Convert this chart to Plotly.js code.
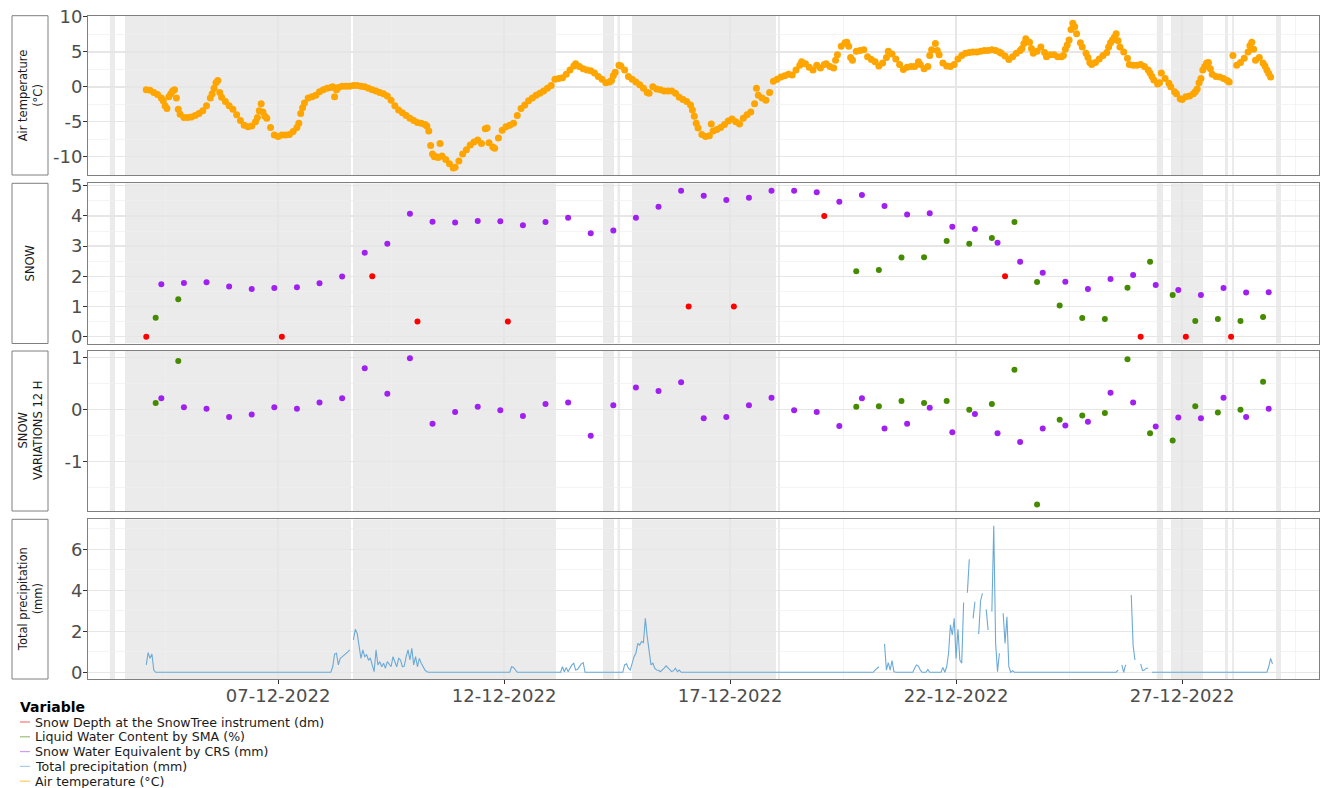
<!DOCTYPE html>
<html><head><meta charset="utf-8">
<script src="https://cdn.plot.ly/plotly-3.0.1.min.js"></script>
<style>html,body{margin:0;padding:0;background:#fff;}#chart{width:1320px;height:788px;}</style>
</head><body><div id="chart"></div>
<script>
// ---------- DATA ----------
// time strings are "DD HH" in December 2022
const tempTime = [
"04 02","04 04","04 06","04 08","04 10","04 11","04 12","04 13","04 14","04 15","04 16","04 17","04 18","04 19","04 20","04 22",
"05 00","05 02","05 04","05 06","05 08","05 10","05 12","05 13","05 14","05 15","05 16","05 17","05 18","05 20","05 22",
"06 00","06 02","06 04","06 06","06 08","06 10","06 12","06 13","06 14","06 15","06 16","06 17","06 18","06 20","06 22",
"07 00","07 02","07 04","07 06","07 08","07 10","07 11","07 12","07 13","07 14","07 16","07 18","07 20","07 22",
"08 00","08 02","08 04","08 05","08 06","08 07","08 08","08 10","08 12","08 14","08 16","08 18","08 20","08 22",
"09 00","09 02","09 04","09 06","09 08","09 10","09 12","09 14","09 16","09 18","09 20","09 22",
"10 00","10 02","10 04","10 06","10 07","10 08","10 09","10 10","10 11","10 12","10 13","10 14","10 15","10 17","10 19","10 21","10 22",
"11 00","11 02","11 04","11 06","11 08","11 10","11 12","11 14","11 15","11 16","11 18","11 19","11 21","11 23",
"12 01","12 03","12 05","12 07","12 09","12 11","12 13","12 15","12 17","12 19","12 21","12 23",
"13 01","13 03","13 05","13 07","13 09","13 11","13 13","13 14","13 16","13 18","13 20","13 22",
"14 00","14 02","14 04","14 06","14 08","14 09","14 10","14 11","14 13","14 14","14 16","14 18","14 20","14 22",
"15 00","15 02","15 04","15 05","15 07","15 09","15 11","15 13","15 15","15 17","15 19","15 21","15 23",
"16 01","16 03","16 04","16 05","16 06","16 07","16 09","16 11","16 13","16 14","16 15","16 17","16 19","16 21","16 23",
"17 01","17 03","17 05","17 07","17 09","17 11","17 13","17 14","17 15","17 17","17 19","17 21","17 23",
"18 01","18 03","18 05","18 07","18 09","18 11","18 13","18 14","18 16","18 18","18 20","18 22",
"19 00","19 02","19 03","19 05","19 07","19 08","19 09","19 11","19 13","19 14","19 15","19 16","19 17","19 19","19 21","19 23",
"20 01","20 03","20 05","20 07","20 09","20 11","20 12","20 14","20 16","20 18","20 20","20 22",
"21 00","21 02","21 04","21 05","21 07","21 09","21 10","21 11","21 13","21 14","21 15","21 17","21 19","21 21","21 23",
"22 01","22 03","22 05","22 07","22 09","22 11","22 13","22 15","22 17","22 19","22 21","22 23",
"23 00","23 02","23 04","23 06","23 08","23 10","23 11","23 12","23 13","23 15","23 16","23 17","23 19","23 21","23 23",
"24 00","24 02","24 04","24 06","24 08","24 09","24 10","24 11","24 12","24 13","24 14","24 15","24 16","24 18","24 19","24 21","24 22","24 23",
"25 00","25 02","25 04","25 06","25 08","25 09","25 10","25 11","25 12","25 13","25 14","25 15","25 17","25 19","25 20","25 22",
"26 00","26 02","26 04","26 06","26 07","26 08","26 09","26 11","26 12","26 13","26 15","26 17","26 18","26 20","26 21","26 23",
"27 00","27 02","27 04","27 06","27 07","27 08","27 09","27 10","27 11","27 12","27 13","27 14","27 15","27 16","27 18","27 20","27 22",
"28 00","28 01","28 03","28 05","28 07","28 09","28 11","28 12","28 13","28 14","28 15","28 17","28 19","28 20","28 21","28 22","28 23"];
const tempValue = [
-0.4,-0.5,-0.8,-1.1,-1.6,-2.0,-2.7,-3.1,-1.4,-1.0,-0.6,-0.4,-1.6,-3.2,-3.9,-4.4,
-4.4,-4.3,-4.1,-3.8,-3.4,-2.7,-1.6,-1.0,-0.2,0.6,0.9,-0.8,-1.5,-2.1,-2.7,
-3.2,-4.0,-4.8,-5.5,-5.7,-5.6,-5.0,-4.4,-3.4,-2.4,-3.6,-4.2,-4.5,-5.8,-6.9,
-7.1,-6.9,-6.9,-6.8,-6.4,-5.8,-5.2,-3.8,-3.0,-2.3,-1.6,-1.4,-1.2,-0.7,
-0.4,-0.2,-0.1,0.0,-1.4,-0.4,-0.1,0.1,0.1,0.1,0.2,0.2,0.1,0.0,
-0.2,-0.4,-0.6,-0.8,-1.0,-1.3,-1.9,-2.7,-3.3,-3.7,-4.1,-4.5,
-4.8,-5.1,-5.2,-5.4,-5.6,-6.3,-8.4,-9.6,-10.0,-10.0,-10.1,-8.1,-9.9,-10.4,-11.0,-11.6,-11.5,
-10.6,-9.6,-9.0,-8.3,-7.9,-7.6,-8.1,-6.0,-5.9,-8.0,-8.6,-8.8,-7.3,-6.2,
-5.7,-5.5,-5.2,-4.1,-3.1,-2.6,-2.0,-1.6,-1.2,-0.9,-0.6,-0.2,
0.2,1.1,1.2,1.3,1.8,2.4,3.0,3.3,2.9,2.6,2.4,2.3,
2.0,1.5,1.1,0.6,0.7,0.9,1.6,2.1,3.1,3.0,2.4,1.5,1.1,0.7,
0.3,-0.2,-0.8,-0.9,0.0,-0.3,-0.4,-0.6,-0.6,-0.6,-0.9,-1.5,-1.8,
-2.1,-2.6,-3.3,-4.2,-5.2,-5.9,-6.8,-7.1,-7.0,-5.3,-6.3,-6.1,-5.8,-5.4,-4.9,
-4.6,-5.0,-5.3,-4.5,-4.0,-3.6,-2.4,-0.2,-1.2,-1.6,-1.9,-0.8,0.8,
1.1,1.4,1.6,1.8,1.7,2.4,3.1,3.6,3.3,2.8,2.4,3.1,
2.7,3.2,3.3,2.9,2.7,3.8,4.6,5.8,6.3,6.4,5.8,4.2,3.8,5.1,5.2,5.3,
4.3,3.9,3.6,3.0,3.4,4.2,5.1,4.7,4.0,3.2,2.5,2.8,
2.9,2.9,3.6,3.2,2.6,2.9,4.5,5.3,6.2,5.2,4.6,3.4,3.0,2.9,3.2,
4.0,4.5,4.8,4.9,5.0,5.0,5.1,5.2,5.2,5.3,5.2,5.0,
4.8,4.4,3.9,4.3,4.8,5.2,5.5,6.2,6.9,6.4,5.5,4.8,5.1,5.7,4.9,
4.3,4.6,4.6,4.3,4.3,4.5,5.4,6.0,6.7,8.2,9.1,8.6,7.6,6.3,5.7,4.8,4.2,3.5,
3.2,3.5,4.0,4.5,4.9,5.7,6.3,6.7,7.1,7.6,6.6,5.7,5.0,4.1,3.2,3.1,
3.1,3.2,2.9,2.4,2.0,1.5,1.0,0.4,0.6,2.0,1.2,0.5,0.0,-0.7,-1.0,-1.7,
-1.8,-1.4,-1.3,-1.0,-0.7,-0.3,0.6,1.2,2.4,2.9,3.4,3.5,2.6,1.8,1.5,1.4,1.2,
0.9,0.7,4.5,3.1,3.5,4.1,5.0,5.9,6.4,5.4,3.8,4.2,3.4,3.0,2.4,1.9,1.4];

// Snow Depth at the SnowTree instrument (dm)
const depthTime = ["04 02","07 02","09 02","10 02","12 02","16 02","17 02","19 02","23 02","26 02","27 02","28 02"];
const depthValue = [0,0,2.0,0.5,0.5,1.0,1.0,4.0,2.0,0,0,0];

// Liquid Water Content by SMA (%)
const lwcTime = ["04 07","04 19","19 19","20 07","20 19","21 07","21 19","22 07","22 19","23 07","23 19",
"24 07","24 19","25 07","25 19","26 07","26 19","27 07","27 19","28 07","28 19"];
const lwcValue = [0.63,1.24,2.17,2.21,2.62,2.63,3.17,3.08,3.27,3.80,1.81,1.03,0.62,0.59,1.62,2.48,1.38,0.52,0.59,0.52,0.65];
const lwcVar = [0.12,0.93,0.05,0.06,0.16,0.12,0.16,-0.01,0.10,0.76,-1.83,-0.20,-0.12,-0.07,0.96,-0.46,-0.60,0.06,-0.06,-0.01,0.53];

// Snow Water Equivalent by CRS (mm)
const sweTime = ["04 10","04 22","05 10","05 22","06 10","06 22","07 10","07 22","08 10","08 22","09 10","09 22",
"10 10","10 22","11 10","11 22","12 10","12 22","13 10","13 22","14 10","14 22","15 10","15 22","16 10","16 22",
"17 10","17 22","18 10","18 22","19 10","19 22","20 10","20 22","21 10","21 22","22 10","22 22","23 10","23 22",
"24 10","24 22","25 10","25 22","26 10","26 22","27 10","27 22","28 10","28 22"];
const sweValue = [1.74,1.78,1.80,1.66,1.58,1.61,1.64,1.77,1.99,2.78,3.08,4.07,3.81,3.78,3.83,3.82,3.69,3.80,3.94,3.43,
3.52,3.94,4.30,4.83,4.67,4.53,4.60,4.83,4.83,4.78,4.47,4.69,4.33,4.05,4.09,3.64,3.57,3.11,2.48,2.12,
1.82,1.58,1.91,2.04,1.71,1.55,1.38,1.61,1.46,1.47];
const sweVar = [0.21,0.04,0.01,-0.15,-0.10,0.04,0.01,0.13,0.21,0.79,0.30,0.98,-0.28,-0.05,0.05,-0.02,-0.13,0.10,0.13,-0.51,
0.08,0.42,0.35,0.52,-0.17,-0.15,0.08,0.22,-0.02,-0.05,-0.32,0.21,-0.37,-0.28,0.03,-0.44,-0.09,-0.46,-0.63,-0.37,
-0.31,-0.24,0.32,0.13,-0.33,-0.16,-0.17,0.22,-0.15,0.01];

// Total precipitation (mm), null = missing
const precipTime = [
"04 02","04 03","04 04","04 05","04 06","04 07",
"08 04","08 05","08 06","08 07","08 08","08 09","08 10","08 11","08 12","08 13","08 14","08 15","08 16","08 17","08 18","08 19","08 20","08 21","08 22","08 23",
"09 00","09 01","09 02","09 03","09 04","09 05","09 06","09 07","09 08","09 09","09 10","09 11","09 12","09 13","09 14","09 15","09 16","09 17","09 18","09 19","09 20","09 21","09 22","09 23",
"10 00","10 01","10 02","10 03","10 04","10 05","10 06","10 07","10 08",
"12 03","12 04","12 05","12 06","12 07",
"13 06","13 07","13 08","13 09","13 10","13 11","13 12","13 13","13 14","13 15","13 16","13 17","13 18","13 19",
"14 15","14 16","14 17","14 18","14 19","14 20","14 21","14 22","14 23",
"15 00","15 01","15 02","15 03","15 04","15 05","15 06","15 07","15 08","15 09","15 10","15 11","15 12","15 13","15 14","15 15","15 16","15 17","15 18","15 19","15 20","15 21","15 22",
"20 04","20 05","20 06","20 07","20 08","20 09","20 10","20 11","20 12","20 13","20 14","20 15","20 16",
"21 01","21 02","21 03","21 04","21 05","21 06","21 08","21 09","21 10","21 16","21 17","21 18","21 19","21 20","21 21","21 22","21 23",
"22 00","22 01","22 02","22 03","22 04","22 05","22 06","22 07","22 08","22 09","22 10","22 11","22 12","22 13","22 14","22 15","22 16","22 17","22 18","22 19","22 20","22 21","22 22","22 23",
"23 00","23 01","23 02","23 03","23 04","23 05","23 06","23 07",
"25 13","25 14","25 15","25 16","25 17","25 18","25 19","25 20","25 21","25 22","25 23",
"26 00","26 01","26 02","26 03","26 04","26 05","26 06","26 07","26 08",
"28 21","28 22","28 23","29 00"];
const precipValue = [
0.36,0.96,0.68,0.89,0.11,0,
0,0.27,0.89,0.93,0.36,0.68,0.75,0.85,0.93,1.0,1.09,null,1.58,2.1,1.9,1.17,0.68,1.09,0.76,0.85,
0.6,0.68,0.36,0.03,1.09,0.36,0.52,0.27,0.44,0.2,0.52,0.36,0.27,0.76,0.52,0.27,0.68,0.6,0.27,0.3,0.76,1.09,0.6,1.17,
0.36,0.76,0.27,0.68,0.44,0.25,0.11,0.03,0,
0,0.27,0.24,0.1,0,
0,0.27,0.03,0.24,0.03,0.2,0.36,0.44,0.11,0.14,0.3,0.41,0.47,0,
0,0.36,0.41,0.2,0.11,0.44,0.76,0.93,1.41,
1.33,1.5,1.45,2.63,1.74,1.09,0.36,0.44,0.2,0.11,0.1,0.03,0.1,0.2,0.31,0.2,0.1,0.03,0.08,0.2,0.03,0.11,0,
0,0.11,0.2,0.27,null,null,1.38,0.11,0.47,0.11,0.57,0.03,0,
0,0.2,0.36,0.3,0.1,0,0,0.14,0,0,0.24,0,0.27,0.93,2.31,1.82,2.63,
0.68,2.1,0.6,0.44,3.4,null,3.88,5.51,null,2.63,3.44,null,1.87,3.49,3.85,null,3.07,2.06,null,2.96,7.14,1.41,0.03,0.93,
null,2.88,1.41,2.71,0.27,0,0.08,0,
0,0.11,null,0.36,0,0.36,null,null,3.77,1.3,0.6,
null,null,0.41,0.08,0.11,0.2,0.2,null,0,
0,0.27,0.68,0.41];

// shaded periods (vertical grey bands)
const bandStart = ["2022-12-03 06:40","2022-12-03 14:42","2022-12-08 15:48","2022-12-14 04:30","2022-12-14 12:30","2022-12-14 19:54",
"2022-12-18 01:24","2022-12-26 10:36","2022-12-26 18:06","2022-12-27 22:48","2022-12-28 02:30","2022-12-29 01:54"];
const bandEnd = ["2022-12-03 09:25","2022-12-08 14:42","2022-12-13 03:36","2022-12-14 10:24","2022-12-14 13:36","2022-12-18 00:24",
"2022-12-18 02:30","2022-12-26 13:54","2022-12-27 11:06","2022-12-28 00:24","2022-12-28 03:36","2022-12-29 04:30"];

// axis ticks and labels
const xTick0 = "2022-12-02";
const yTicks = [[-10,-5,0,5,10],[0,1,2,3,4,5],[-1,0,1],[0,2,4,6]];
const yTickText = [["-10","-5","0","5","10"],["0","1","2","3","4","5"],["-1","0","1"],["0","2","4","6"]];
const yMinor = [[-12.5,-7.5,-2.5,2.5,7.5],[0.5,1.5,2.5,3.5,4.5],[-1.5,-0.5,0.5],[1,3,5,7]];
const yRanges = [[-12.61,10.14],[-0.225,5.08],[-1.956,1.121],[-0.327,7.46]];
const stripLabels = ["Air temperature<br>(°C)","SNOW","SNOW<br>VARIATIONS 12 H","Total precipitation<br>(mm)"];
const legendTitle = "Variable";
const legendLabels = ["Snow Depth at the SnowTree instrument (dm)","Liquid Water Content by SMA (%)",
"Snow Water Equivalent by CRS (mm)","Total precipitation (mm)","Air temperature (°C)"];

// ---------- STYLE ----------
const C_DEPTH = "#FF0000", C_LWC = "#458B00", C_SWE = "#A020F0", C_PREC = "#6BAAD6", C_TEMP = "#FFA500";
const legendKeyColors = ["rgba(255,0,0,0.55)","rgba(69,139,0,0.55)","rgba(160,32,240,0.45)","rgba(107,170,214,0.6)","rgba(255,165,0,0.6)"];
const FONT = "DejaVu Sans, sans-serif";
const W = 1320, H = 788, ML = 88, MR = 1, MT = 16, MB = 109;
const PW = W - ML - MR, PH = H - MT - MB;
const pxX = v => (v - ML) / PW;
const pxY = v => (H - MB - v) / PH;
const panelPx = [[15.7,175],[183.3,343.5],[351,511],[519.3,679]];
const domains = panelPx.map(p => [pxY(p[1]), pxY(p[0])]);
const xRange = ["2022-12-02 19:04","2022-12-30 00:42"];
const D = s => "2022-12-" + s.slice(0,2) + " " + s.slice(3,5) + ":00";

const traces = [
  {x: tempTime.map(D), y: tempValue, type:"scatter", mode:"markers", marker:{color:C_TEMP, size:7}, xaxis:"x", yaxis:"y", showlegend:false},
  {x: depthTime.map(D), y: depthValue, type:"scatter", mode:"markers", marker:{color:C_DEPTH, size:6}, xaxis:"x2", yaxis:"y2", showlegend:false},
  {x: lwcTime.map(D), y: lwcValue, type:"scatter", mode:"markers", marker:{color:C_LWC, size:6}, xaxis:"x2", yaxis:"y2", showlegend:false},
  {x: sweTime.map(D), y: sweValue, type:"scatter", mode:"markers", marker:{color:C_SWE, size:6}, xaxis:"x2", yaxis:"y2", showlegend:false},
  {x: lwcTime.map(D), y: lwcVar, type:"scatter", mode:"markers", marker:{color:C_LWC, size:6}, xaxis:"x3", yaxis:"y3", showlegend:false},
  {x: sweTime.map(D), y: sweVar, type:"scatter", mode:"markers", marker:{color:C_SWE, size:6}, xaxis:"x3", yaxis:"y3", showlegend:false},
  {x: precipTime.map(D), y: precipValue, type:"scatter", mode:"lines", line:{color:C_PREC, width:1.1}, connectgaps:false, xaxis:"x4", yaxis:"y4", showlegend:false}
];

const GRID = "#E6E6E6", MINOR = "#F0F0F0", LINE = "#7F7F7F", TICKC = "#4D4D4D";
function xaxis(i, labels){
  return {type:"date", range:xRange, tick0:xTick0, dtick:5*86400000, tickformat:"%d-%m-%Y",
    showgrid:true, gridcolor:GRID, gridwidth:1.3,
    minor:{tick0:"2022-12-04 12:00", dtick:5*86400000, showgrid:true, gridcolor:MINOR, gridwidth:0.7, ticks:""},
    showline:true, linecolor:LINE, linewidth:1, mirror:true, zeroline:false,
    ticks: labels ? "outside" : "", ticklen:4, tickcolor:"#333333", tickwidth:1,
    showticklabels: labels, tickfont:{family:FONT, size:18, color:TICKC}, ticklabelstandoff:-4,
    anchor: i===0 ? "y" : "y"+(i+1), fixedrange:true};
}
function yaxis(i){
  return {domain:domains[i], range:yRanges[i], tickmode:"array", tickvals:yTicks[i], ticktext:yTickText[i],
    showgrid:true, gridcolor:GRID, gridwidth:1.3,
    minor:{tickmode:"array", tickvals:yMinor[i], showgrid:true, gridcolor:MINOR, gridwidth:0.7, ticks:""},
    showline:true, linecolor:LINE, linewidth:1, mirror:true, zeroline:false,
    ticks:"outside", ticklen:4, tickcolor:"#333333", tickwidth:1,
    tickfont:{family:FONT, size:18, color:TICKC}, ticklabelstandoff:-3,
    anchor: i===0 ? "x" : "x"+(i+1), fixedrange:true};
}

const shapes = [];
const annotations = [];
for (let i = 0; i < 4; i++) {
  const xr = i===0 ? "x" : "x"+(i+1), yr = i===0 ? "y" : "y"+(i+1);
  for (let k = 0; k < bandStart.length; k++) {
    shapes.push({type:"rect", xref:xr, yref:yr, x0:bandStart[k], x1:bandEnd[k], y0:yRanges[i][0], y1:yRanges[i][1],
      fillcolor:"#EBEBEB", line:{width:0}, layer:"below"});
  }
  shapes.push({type:"rect", xref:"paper", yref:"paper", x0:pxX(12), x1:pxX(48), y0:domains[i][0], y1:domains[i][1],
    fillcolor:"#FFFFFF", line:{color:LINE, width:1}, layer:"above"});
  annotations.push({xref:"paper", yref:"paper", x:pxX(30), y:(domains[i][0]+domains[i][1])/2, text:stripLabels[i],
    textangle:-90, showarrow:false, xanchor:"center", yanchor:"middle", align:"center",
    font:{family:FONT, size:11.5, color:"#1A1A1A"}});
}
annotations.push({xref:"paper", yref:"paper", x:pxX(18), y:pxY(707), text:"<b>"+legendTitle+"</b>", showarrow:false,
  xanchor:"left", yanchor:"middle", font:{family:FONT, size:14, color:"#000000"}});
legendLabels.forEach((lab, k) => {
  const yy = pxY(722 + k*14.8);
  annotations.push({xref:"paper", yref:"paper", x:pxX(33), y:yy, text:lab, showarrow:false,
    xanchor:"left", yanchor:"middle", font:{family:FONT, size:12.6, color:"#1A1A1A"}});
  shapes.push({type:"line", xref:"paper", yref:"paper", x0:pxX(20), x1:pxX(30), y0:yy, y1:yy,
    line:{color:legendKeyColors[k], width:1.2}, layer:"above"});
});

const layout = {width:W, height:H, margin:{l:ML, r:MR, t:MT, b:MB, pad:0},
  paper_bgcolor:"#FFFFFF", plot_bgcolor:"#FFFFFF", showlegend:false,
  font:{family:FONT, color:TICKC},
  xaxis:xaxis(0,false), xaxis2:xaxis(1,false), xaxis3:xaxis(2,false), xaxis4:xaxis(3,true),
  yaxis:yaxis(0), yaxis2:yaxis(1), yaxis3:yaxis(2), yaxis4:yaxis(3),
  shapes:shapes, annotations:annotations};

Plotly.newPlot("chart", traces, layout, {staticPlot:true, displayModeBar:false});
</script></body></html>
